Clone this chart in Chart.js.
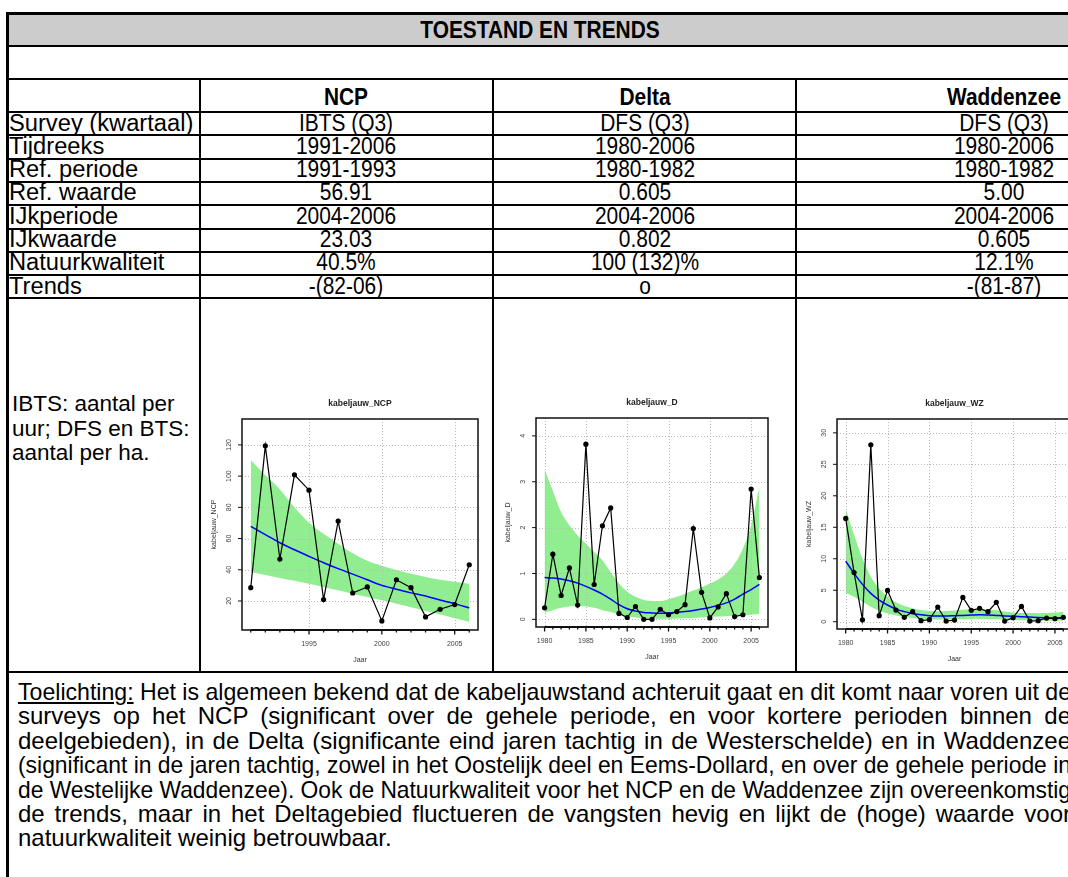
<!DOCTYPE html>
<html>
<head>
<meta charset="utf-8">
<script src="https://cdn.jsdelivr.net/npm/chart.js@4.4.1/dist/chart.umd.min.js"></script>
<style>
  html, body { margin: 0; padding: 0; background: #fff; }
  body { position: relative; width: 1068px; height: 877px; overflow: hidden; }
  .ln { position: absolute; background: #000; }
  .tx { position: absolute; white-space: nowrap; color: #000;
        font-family: "Liberation Sans", Arial, sans-serif; font-size: 23px;
        transform-origin: 0 50%; }
  .num { transform: scaleX(0.91); }
  .lab { transform: scaleX(1.03); }
  .b { font-weight: bold; font-size: 24px; transform: scaleX(0.87); }
  .c { text-align: center; transform-origin: 50% 50%; }
  .reg { font-size: 22.5px; }
  .par { position: absolute; left: 18px; white-space: nowrap; color: #000;
         font-family: "Liberation Sans", Arial, sans-serif; font-size: 24px;
         line-height: 24.4px; height: 24.4px; transform-origin: 0 50%; }
  .par span.row { display: inline-block; white-space: nowrap; }
  canvas { position: absolute; filter: blur(0.3px); }
</style>
</head>
<body>
<script>
// ---- table content ----
const tableTitle = "TOESTAND EN TRENDS";
const areas = ["NCP", "Delta", "Waddenzee"];
const rowLabels = ["Survey (kwartaal)", "Tijdreeks", "Ref. periode", "Ref. waarde", "IJkperiode", "IJkwaarde", "Natuurkwaliteit", "Trends"];
const ncpCells = ["IBTS (Q3)", "1991-2006", "1991-1993", "56.91", "2004-2006", "23.03", "40.5%", "-(82-06)"];
const deltaCells = ["DFS (Q3)", "1980-2006", "1980-1982", "0.605", "2004-2006", "0.802", "100 (132)%", "o"];
const wzCells = ["DFS (Q3)", "1980-2006", "1980-1982", "5.00", "2004-2006", "0.605", "12.1%", "-(81-87)"];
const unitNote = ["IBTS: aantal per", "uur; DFS en BTS:", "aantal per ha."];
const noteLead = "Toelichting:";
const noteLines = [
  " Het is algemeen bekend dat de kabeljauwstand achteruit gaat en dit komt naar voren uit de",
  "surveys op het NCP (significant over de gehele periode, en voor kortere perioden binnen de",
  "deelgebieden), in de Delta (significante eind jaren tachtig in de Westerschelde) en in Waddenzee",
  "(significant in de jaren tachtig, zowel in het Oostelijk deel en Eems-Dollard, en over de gehele periode in",
  "de Westelijke Waddenzee). Ook de Natuurkwaliteit voor het NCP en de Waddenzee zijn overeenkomstig",
  "de trends, maar in het Deltagebied fluctueren de vangsten hevig en lijkt de (hoge) waarde voor",
  "natuurkwaliteit weinig betrouwbaar."
];

// ---- chart data: NCP (IBTS) ----
const ncpYears  = [1991,1992,1993,1994,1995,1996,1997,1998,1999,2000,2001,2002,2003,2004,2005,2006];
const ncpValues = [28.5,119.4,46.9,100.8,91.0,20.9,71.2,25.1,29.0,7.2,33.6,28.5,9.8,14.7,17.7,43.2];
const ncpFit    = [67.8,62.5,57.3,52.8,48.6,44.5,40.7,37.2,33.6,30.0,27.5,25.2,23.2,20.6,18.3,15.5];
const ncpUpper  = [110.4,100.5,91.5,80.0,70.1,63.0,56.7,50.5,45.8,42.6,39.8,37.4,35.4,33.6,32.3,31.1];
const ncpLower  = [38.5,36.6,34.7,32.9,31.1,29.0,26.8,24.6,22.5,20.4,18.3,16.0,13.6,11.3,9.0,6.6];
const ncpXTicks = [1995,2000,2005];
const ncpYTicks = [20,40,60,80,100,120];

// ---- chart data: Delta (DFS) ----
const deltaYears  = [1980,1981,1982,1983,1984,1985,1986,1987,1988,1989,1990,1991,1992,1993,1994,1995,1996,1997,1998,1999,2000,2001,2002,2003,2004,2005,2006];
const deltaValues = [0.25,1.42,0.52,1.12,0.31,3.82,0.76,2.04,2.43,0.13,0.04,0.28,0.0,0.0,0.22,0.10,0.17,0.32,1.98,0.59,0.03,0.27,0.56,0.06,0.10,2.84,0.91];
const deltaFit    = [0.91,0.90,0.88,0.84,0.79,0.72,0.64,0.55,0.44,0.32,0.23,0.18,0.15,0.14,0.135,0.14,0.155,0.17,0.195,0.225,0.26,0.305,0.36,0.44,0.55,0.65,0.76];
const deltaUpper  = [3.27,2.80,2.34,2.05,1.83,1.65,1.47,1.29,1.03,0.78,0.60,0.49,0.42,0.40,0.40,0.44,0.49,0.56,0.63,0.70,0.78,0.87,1.00,1.21,1.54,2.05,2.89];
const deltaLower  = [0.145,0.20,0.25,0.28,0.29,0.28,0.25,0.20,0.16,0.11,0.07,0.04,0.02,0.015,0.015,0.015,0.02,0.025,0.03,0.04,0.05,0.06,0.07,0.08,0.09,0.10,0.12];
const deltaXTicks = [1980,1985,1990,1995,2000,2005];
const deltaYTicks = [0,1,2,3,4];

// ---- chart data: Waddenzee (DFS) ----
const wzYears  = [1980,1981,1982,1983,1984,1985,1986,1987,1988,1989,1990,1991,1992,1993,1994,1995,1996,1997,1998,1999,2000,2001,2002,2003,2004,2005,2006];
const wzValues = [16.4,7.8,0.3,28.1,0.95,4.97,1.85,0.69,1.59,0.16,0.32,2.33,0.1,0.26,3.86,1.8,2.12,1.59,3.07,0.1,0.63,2.43,0.1,0.16,0.58,0.48,0.69];
const wzFit    = [9.63,7.67,5.93,4.5,3.44,2.65,2.0,1.6,1.32,1.1,0.95,0.9,0.9,0.95,1.0,1.05,1.1,1.08,1.0,0.92,0.85,0.8,0.74,0.68,0.63,0.58,0.53];
const wzUpper  = [18.0,13.8,10.05,7.14,5.29,3.97,3.07,2.5,2.12,1.85,1.69,1.65,1.69,1.78,1.9,1.97,2.0,1.92,1.8,1.62,1.48,1.4,1.38,1.36,1.38,1.45,1.59];
const wzLower  = [4.6,3.97,3.17,2.38,1.75,1.32,1.0,0.75,0.58,0.45,0.37,0.33,0.32,0.34,0.37,0.4,0.42,0.4,0.37,0.31,0.26,0.23,0.21,0.18,0.16,0.16,0.16];
const wzXTicks = [1980,1985,1990,1995,2000,2005];
const wzYTicks = [0,5,10,15,20,25,30];

// ---- table layout ----
const colX = [200, 493, 796];           // column dividers
const colCenter = [346, 645, 1004];     // centres of the value columns
const rowTop0 = 112, rowH = 23.3;
const noteWidth = 1053;                 // justified paragraph width

function el(cls, css, text) {
  const d = document.createElement('div');
  d.className = cls;
  Object.assign(d.style, css);
  if (text !== undefined) d.textContent = text;
  document.body.appendChild(d);
  return d;
}
function hLine(y, w) { el('ln', {left: '6px', top: (y - 1) + 'px', width: '1070px', height: (w || 2) + 'px'}); }
function vLine(x, y0, y1, w) { el('ln', {left: (x - 1) + 'px', top: y0 + 'px', width: (w || 2) + 'px', height: (y1 - y0) + 'px'}); }

// title band
el('', {position: 'absolute', left: '7px', top: '13px', width: '1070px', height: '33px', background: '#cccccc'});
el('tx b c', {left: '7px', top: '13px', width: '1066px', lineHeight: '34px'}, tableTitle);

// grid lines
[13, 46, 79].forEach(y => hLine(y, y === 13 ? 3 : 2));
for (let i = 0; i <= rowLabels.length; i++) hLine(Math.round(rowTop0 + i * rowH));
hLine(672);
vLine(7, 12, 877, 3);
colX.forEach(x => vLine(x, 79, 672));

// header row
areas.forEach((a, i) => el('tx b c', {left: (colCenter[i] - 150) + 'px', width: '300px', top: '80px', lineHeight: '33px'}, a));

// data rows
rowLabels.forEach((lab, r) => {
  const top = rowTop0 + r * rowH - 0.5;
  el('tx lab', {left: '9px', top: top + 'px', lineHeight: rowH + 'px'}, lab);
  [ncpCells, deltaCells, wzCells].forEach((cells, i) => {
    el('tx num c', {left: (colCenter[i] - 150) + 'px', width: '300px', top: top + 'px', lineHeight: rowH + 'px'}, cells[r]);
  });
});

// unit note in the chart row
unitNote.forEach((s, i) => el('tx reg', {left: '12px', top: (392 + i * 24.5) + 'px', lineHeight: '24.5px'}, s));

// explanation paragraph: each line justified to the cell width, squeezed when too long
noteLines.forEach((s, i) => {
  const d = el('par', {top: (680 + i * 24.4) + 'px'});
  const row = document.createElement('span');
  row.className = 'row';
  if (i === 0) {
    const u = document.createElement('span');
    u.style.textDecoration = 'underline';
    u.textContent = noteLead;
    row.appendChild(u);
  }
  row.appendChild(document.createTextNode(s));
  d.appendChild(row);
  const w = row.getBoundingClientRect().width;
  const last = i === noteLines.length - 1;
  if (w > noteWidth) {
    d.style.transform = 'scaleX(' + (noteWidth / w) + ')';
  } else if (!last) {
    row.style.width = noteWidth + 'px';
    row.style.textAlign = 'justify';
    row.style.textAlignLast = 'justify';
  }
});

// ---- R-style axes, grid and titles drawn on the Chart.js scales ----
const rAxes = {
  id: 'rAxes',
  beforeDatasetsDraw(chart, args, o) {
    const {ctx, chartArea: a, scales: {x, y}} = chart;
    ctx.save();
    ctx.strokeStyle = '#b8b8b8';
    ctx.lineWidth = 1;
    ctx.setLineDash([1, 2]);
    o.xTicks.forEach(v => {
      const px = Math.round(x.getPixelForValue(v)) + 0.5;
      ctx.beginPath(); ctx.moveTo(px, a.top); ctx.lineTo(px, a.bottom); ctx.stroke();
    });
    o.yTicks.forEach(v => {
      const py = Math.round(y.getPixelForValue(v)) + 0.5;
      ctx.beginPath(); ctx.moveTo(a.left, py); ctx.lineTo(a.right, py); ctx.stroke();
    });
    ctx.restore();
  },
  afterDraw(chart, args, o) {
    const {ctx, chartArea: a, scales: {x, y}} = chart;
    ctx.save();
    ctx.setLineDash([]);
    ctx.strokeStyle = '#111';
    ctx.lineWidth = 1.5;
    ctx.strokeRect(a.left, a.top, a.right - a.left, a.bottom - a.top);
    // bottom axis: every year a small tick, labelled years a longer one
    const x0 = x.getPixelForValue(o.years[0]);
    const x1 = x.getPixelForValue(o.years[o.years.length - 1]);
    ctx.lineWidth = 2;
    ctx.beginPath(); ctx.moveTo(x0, a.bottom); ctx.lineTo(x1, a.bottom); ctx.stroke();
    ctx.lineWidth = 1.3;
    o.years.forEach(v => {
      const px = x.getPixelForValue(v);
      const len = o.xTicks.includes(v) ? 4.5 : 2.5;
      ctx.beginPath(); ctx.moveTo(px, a.bottom); ctx.lineTo(px, a.bottom + len); ctx.stroke();
    });
    // left axis ticks
    ctx.lineWidth = 1;
    o.yTicks.forEach(v => {
      const py = y.getPixelForValue(v);
      ctx.beginPath(); ctx.moveTo(a.left, py); ctx.lineTo(a.left - 4, py); ctx.stroke();
    });
    // tick labels
    ctx.fillStyle = '#444';
    ctx.font = '7px "Liberation Sans", Arial, sans-serif';
    ctx.textAlign = 'center';
    ctx.textBaseline = 'middle';
    o.xTicks.forEach(v => ctx.fillText(String(v), x.getPixelForValue(v), a.bottom + 14));
    o.yTicks.forEach(v => {
      ctx.save();
      ctx.translate(a.left - 13, y.getPixelForValue(v));
      ctx.rotate(-Math.PI / 2);
      ctx.fillText(String(v), 0, 0);
      ctx.restore();
    });
    // axis titles
    ctx.fillStyle = '#333';
    ctx.fillText('Jaar', (a.left + a.right) / 2, a.bottom + 30);
    ctx.save();
    ctx.translate(a.left - 28, (a.top + a.bottom) / 2);
    ctx.rotate(-Math.PI / 2);
    ctx.fillText(o.yTitle, 0, 0);
    ctx.restore();
    // main title
    ctx.fillStyle = '#222';
    ctx.font = 'bold 8.5px "Liberation Sans", Arial, sans-serif';
    ctx.fillText(o.title, (a.left + a.right) / 2, a.top - 15);
    ctx.restore();
  }
};

function pts(xs, ys) { return xs.map((v, i) => ({x: v, y: ys[i]})); }

function smallMultiple(spec) {
  const cv = document.createElement('canvas');
  cv.width = spec.w; cv.height = spec.h;
  cv.style.left = spec.left + 'px'; cv.style.top = spec.top + 'px';
  cv.style.width = spec.w + 'px'; cv.style.height = spec.h + 'px';
  document.body.appendChild(cv);
  new Chart(cv, {
    type: 'line',
    data: {
      datasets: [
        {data: pts(spec.years, spec.values), borderColor: '#000', borderWidth: 1.2, pointRadius: 2.6,
         pointBackgroundColor: '#000', pointBorderWidth: 0, fill: false, tension: 0, order: 0},
        {data: pts(spec.years, spec.fit), borderColor: '#0000ff', borderWidth: 1.5, pointRadius: 0,
         fill: false, cubicInterpolationMode: 'monotone', order: 1},
        {data: pts(spec.years, spec.lower), borderColor: 'rgba(0,0,0,0)', borderWidth: 0, pointRadius: 0,
         fill: false, cubicInterpolationMode: 'monotone', order: 2},
        {data: pts(spec.years, spec.upper), borderColor: 'rgba(0,0,0,0)', borderWidth: 0, pointRadius: 0,
         fill: '-1', backgroundColor: '#90ee90', cubicInterpolationMode: 'monotone', order: 3}
      ]
    },
    options: {
      responsive: false, animation: false, devicePixelRatio: 1,
      layout: {padding: spec.pad},
      scales: {
        x: {type: 'linear', display: false, min: spec.xMin, max: spec.xMax},
        y: {type: 'linear', display: false, min: spec.yMin, max: spec.yMax}
      },
      plugins: {
        legend: {display: false}, tooltip: {enabled: false},
        filler: {drawTime: 'beforeDatasetsDraw', propagate: false},
        rAxes: {title: spec.title, yTitle: spec.yTitle, xTicks: spec.xTicks, yTicks: spec.yTicks, years: spec.years}
      }
    },
    plugins: [rAxes]
  });
}

smallMultiple({left: 202, top: 392, w: 288, h: 278, pad: {left: 40, top: 27, right: 12, bottom: 40},
  xMin: 1990.4, xMax: 2006.6, yMin: 1.4, yMax: 136.6,
  title: 'kabeljauw_NCP', yTitle: 'kabeljauw_NCP',
  years: ncpYears, values: ncpValues, fit: ncpFit, upper: ncpUpper, lower: ncpLower,
  xTicks: ncpXTicks, yTicks: ncpYTicks});

smallMultiple({left: 495, top: 392, w: 299, h: 278, pad: {left: 41, top: 26, right: 26, bottom: 43},
  xMin: 1978.96, xMax: 2007.04, yMin: -0.167, yMax: 4.39,
  title: 'kabeljauw_D', yTitle: 'kabeljauw_D',
  years: deltaYears, values: deltaValues, fit: deltaFit, upper: deltaUpper, lower: deltaLower,
  xTicks: deltaXTicks, yTicks: deltaYTicks});

smallMultiple({left: 798, top: 392, w: 290, h: 278, pad: {left: 39, top: 27, right: 16, bottom: 41},
  xMin: 1978.96, xMax: 2007.04, yMin: -1.16, yMax: 32.2,
  title: 'kabeljauw_WZ', yTitle: 'kabeljauw_WZ',
  years: wzYears, values: wzValues, fit: wzFit, upper: wzUpper, lower: wzLower,
  xTicks: wzXTicks, yTicks: wzYTicks});
</script>
</body>
</html>
